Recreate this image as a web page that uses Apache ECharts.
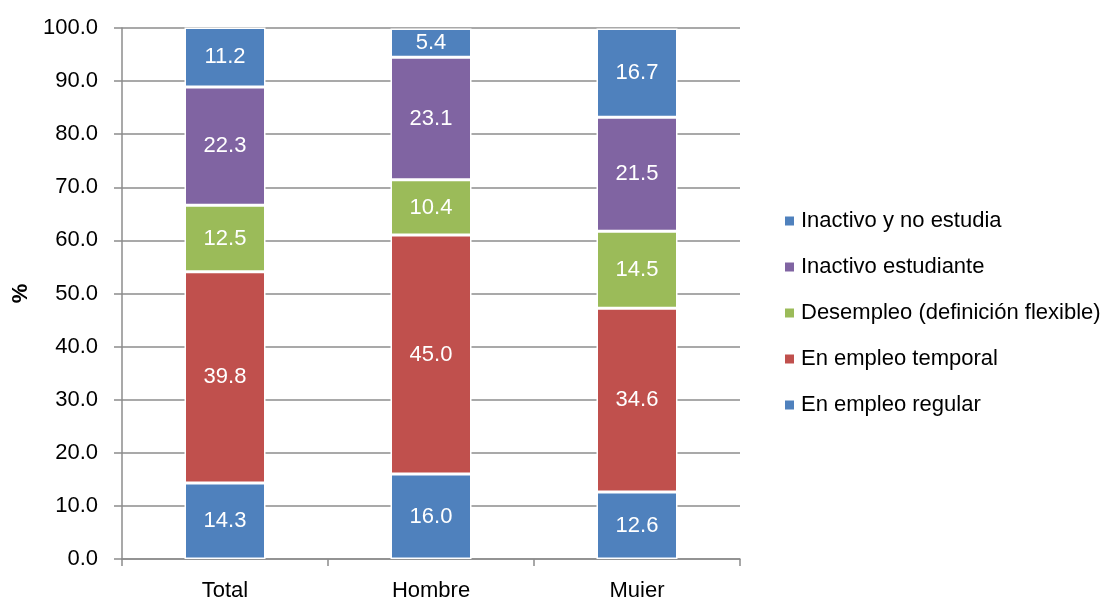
<!DOCTYPE html>
<html>
<head>
<meta charset="utf-8">
<script src="https://cdn.jsdelivr.net/npm/echarts@6/dist/echarts.min.js"></script>
<style>
  html, body { margin: 0; padding: 0; background: #fff; }
  #chart { width: 1100px; height: 601px; }
</style>
</head>
<body>
<div id="chart"></div>
<script>
// Categories along the x axis
const categories = ['Total', 'Hombre', 'Muier'];

// Shares (%) for each status, stacked bottom to top
const empleoRegular = [14.3, 16.0, 12.6];
const empleoTemporal = [39.8, 45.0, 34.6];
const desempleo = [12.5, 10.4, 14.5];
const inactivoEstudiante = [22.3, 23.1, 21.5];
const inactivoNoEstudia = [11.2, 5.4, 16.7];

const seriesNames = [
  'En empleo regular',
  'En empleo temporal',
  'Desempleo (definición flexible)',
  'Inactivo estudiante',
  'Inactivo y no estudia'
];
const seriesData = [empleoRegular, empleoTemporal, desempleo, inactivoEstudiante, inactivoNoEstudia];
const seriesColors = ['#4F81BD', '#C0504D', '#9BBB59', '#8064A2', '#4F81BD'];

const font = '"Liberation Sans", Arial, sans-serif';
const fs = 22;

const chart = echarts.init(document.getElementById('chart'), null, { renderer: 'canvas' });

chart.setOption({
  animation: false,
  textStyle: { fontFamily: font },
  grid: { left: 122, right: 360, top: 28, bottom: 42, containLabel: false, outerBoundsMode: 'none' },
  legend: {
    orient: 'vertical',
    left: 778,
    top: 205,
    itemWidth: 11,
    itemHeight: 11,
    itemGap: 24,
    icon: 'rect',
    data: seriesNames.slice().reverse(),
    textStyle: { fontFamily: font, fontSize: fs, color: '#000', lineHeight: 22, padding: [0, 0, 0, 1] }
  },
  xAxis: {
    type: 'category',
    data: categories,
    axisLine: { show: true, lineStyle: { color: '#8c8c8c', width: 1.5 } },
    axisTick: { show: true, length: 7, alignWithLabel: false, lineStyle: { color: '#8c8c8c', width: 1.5 } },
    axisLabel: { color: '#000', fontSize: fs, fontFamily: font, margin: 21 },
    splitLine: { show: false }
  },
  yAxis: {
    type: 'value',
    min: 0,
    max: 100,
    interval: 10,
    name: '%',
    nameLocation: 'middle',
    nameGap: 90,
    nameRotate: 90,
    nameTextStyle: { color: '#000', fontSize: 22, fontWeight: 'bold', fontFamily: font },
    axisLine: { show: true, lineStyle: { color: '#8c8c8c', width: 1.5 } },
    axisTick: { show: true, length: 8, lineStyle: { color: '#8c8c8c', width: 1.5 } },
    axisLabel: {
      color: '#000', fontSize: fs, fontFamily: font, margin: 24,
      formatter: v => v.toFixed(1)
    },
    splitLine: { show: true, lineStyle: { color: '#8c8c8c', width: 1.5 } }
  },
  series: seriesNames.map((name, i) => ({
    name: name,
    type: 'bar',
    stack: 'total',
    barWidth: 81,
    data: seriesData[i],
    itemStyle: { color: seriesColors[i], borderColor: '#ffffff', borderWidth: 1.5 },
    label: {
      show: true,
      position: 'inside',
      color: '#ffffff',
      fontSize: fs,
      fontFamily: font,
      formatter: p => p.value.toFixed(1)
    }
  }))
});
</script>
</body>
</html>
